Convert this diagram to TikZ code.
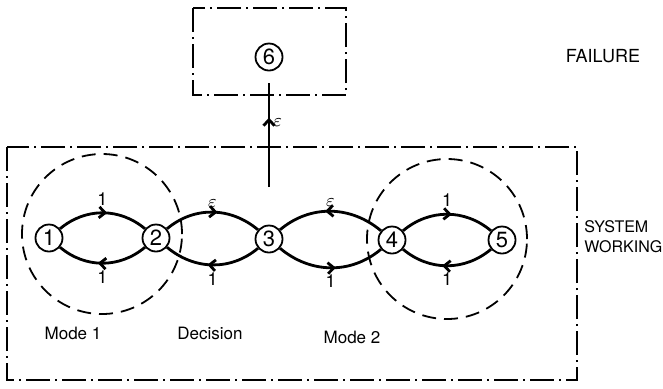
\documentclass[tikz,border=0pt]{standalone}
\usepackage{fontspec}
\setmainfont{TeX Gyre Heros}
\usetikzlibrary{arrows.meta,decorations.markings}

\begin{document}
\begin{tikzpicture}[
  x=0.5pt, y=0.5pt,
  state/.style={circle, draw, line width=0.9pt, minimum size=13.5pt, inner sep=0pt,
               font=\fontsize{11}{11}\selectfont},
  trans/.style={line width=1.4pt, postaction={decorate},
               decoration={markings, mark=at position #1 with
                 {\arrow{Straight Barb[length=3pt,width=5.5pt]}}}},
  trans/.default=0.55,
  region/.style={draw, line width=0.6pt, dash pattern=on 12pt off 2.5pt on 1pt off 2.5pt},
  mode/.style={circle, draw, line width=0.9pt, dash pattern=on 7pt off 4pt,
               minimum size=80pt, inner sep=0pt},
  lab/.style={font=\fontsize{9}{9}\selectfont, inner sep=3pt},
  tag/.style={font=\fontsize{8.5}{10}\selectfont, align=left},
]
  \useasboundingbox (0,0) rectangle (663,-388);

  % Failure state, outside the working region
  \draw[region] (193,-8) rectangle (346,-95);
  \node[state] (s6) at (269,-57) {6};
  \node[tag, font=\fontsize{9}{10}\selectfont] (fail) at (603,-56) {FAILURE};

  % Working states with the two mode groups
  \draw[region] (7,-147) rectangle (577,-380);
  \node[mode] (m1) at (102,-234) {};
  \node[mode] (m2) at (447,-239) {};
  \node[state] (s1) at (49,-238) {1};
  \node[state] (s2) at (156,-238) {2};
  \node[state] (s3) at (269,-239) {3};
  \node[state] (s4) at (392,-240) {4};
  \node[state] (s5) at (502,-240) {5};

  \draw[trans] (s1) to[out=40,in=140] node[lab, above] {1} (s2);
  \draw[trans] (s2) to[out=-140,in=-40] node[lab, below] {1} (s1);
  \draw[trans] (s2) to[out=40,in=140] node[lab, above, inner sep=1.5pt] {$\varepsilon$} (s3);
  \draw[trans] (s3) to[out=-140,in=-40] node[lab, below] {1} (s2);
  \draw[trans] (s4) to[out=140,in=40] node[lab, above, inner sep=1.5pt] {$\varepsilon$} (s3);
  \draw[trans] (s3) to[out=-40,in=-140] node[lab, below] {1} (s4);
  \draw[trans] (s4) to[out=40,in=140] node[lab, above] {1} (s5);
  \draw[trans] (s5) to[out=-140,in=-40] node[lab, below] {1} (s4);

  % Exit towards failure
  \coordinate (exit) at (269,-187);
  \draw[trans=0.6, shorten >=6pt] (exit) -- node[lab, right, pos=0.56, inner sep=1.5pt] {$\varepsilon$} (s6);

  \node[tag] (mode1) at (73,-333) {Mode 1};
  \node[tag] (dec) at (210,-333) {Decision};
  \node[tag] (mode2) at (352,-337) {Mode 2};
  \node[tag, anchor=west, inner sep=1pt, font=\fontsize{8}{10}\selectfont] (work) at (582,-237) {SYSTEM\\WORKING};
\end{tikzpicture}
\end{document}
